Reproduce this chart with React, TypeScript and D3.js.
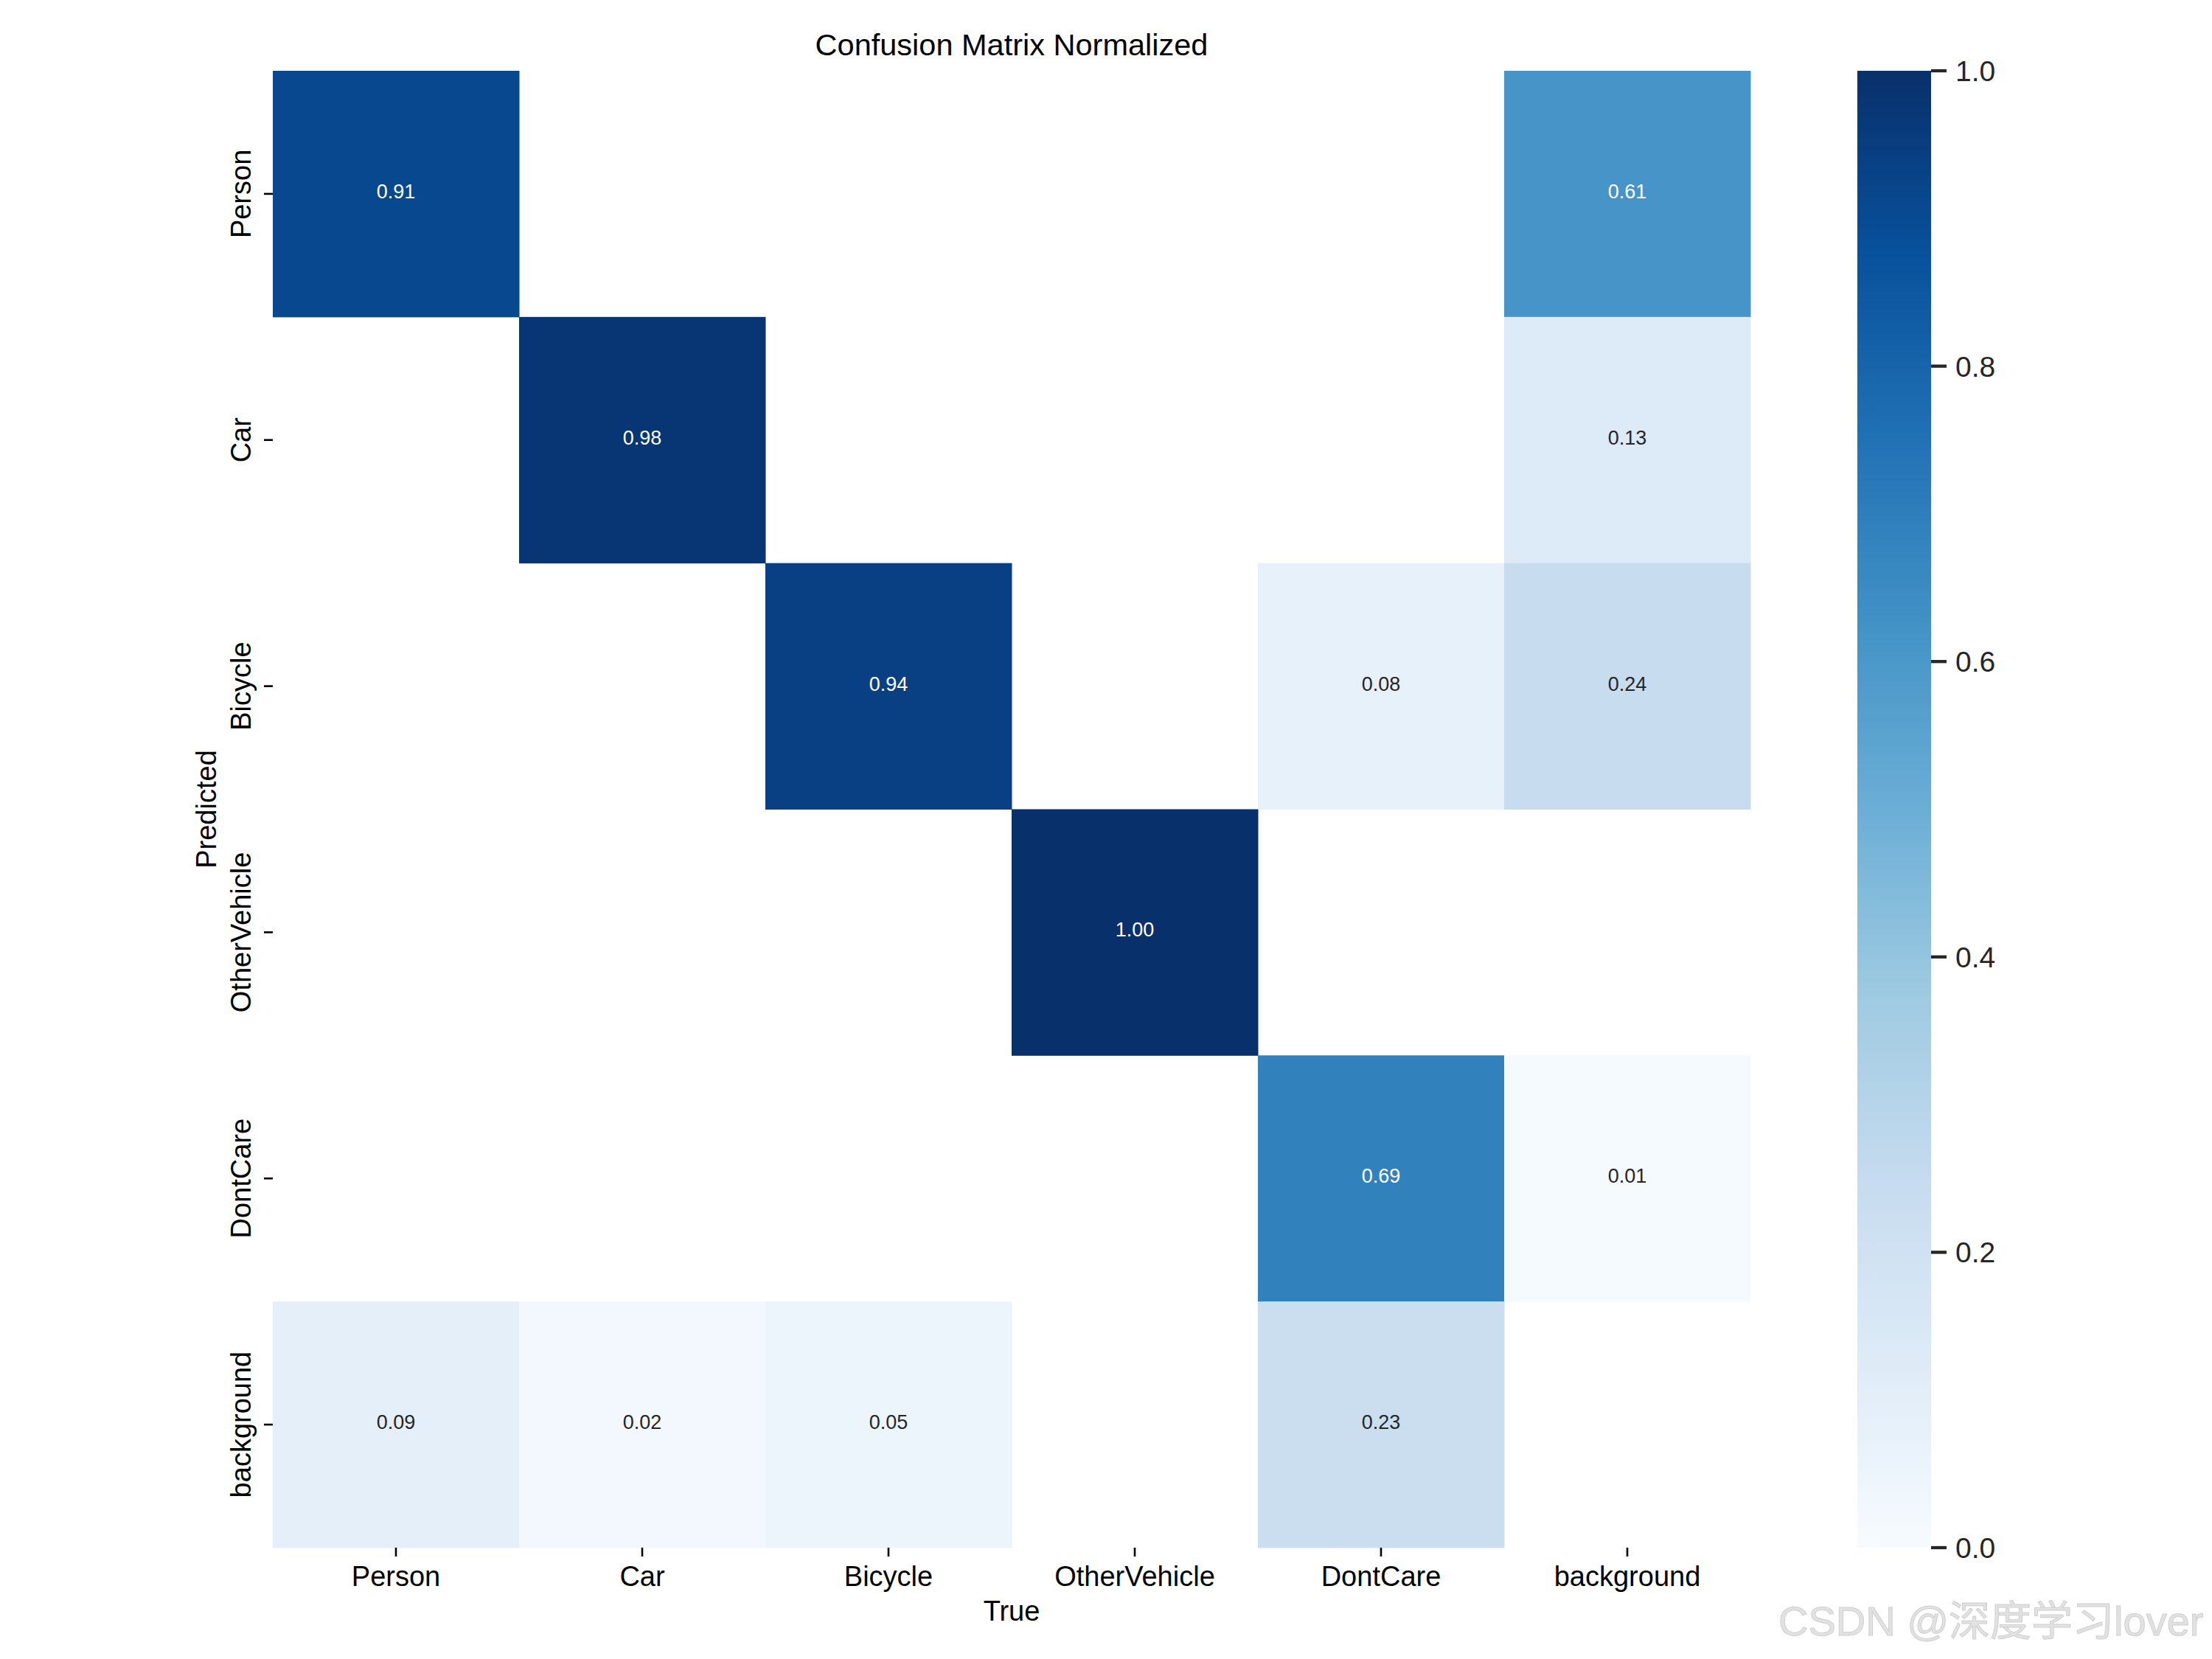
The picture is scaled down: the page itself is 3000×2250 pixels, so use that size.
import React from "react";
import * as d3 from "d3";

const classes = ["Person", "Car", "Bicycle", "OtherVehicle", "DontCare", "background"];
// rows = Predicted, columns = True; null = empty (masked) cell
const rowPerson = [0.91, null, null, null, null, 0.61];
const rowCar = [null, 0.98, null, null, null, 0.13];
const rowBicycle = [null, null, 0.94, null, 0.08, 0.24];
const rowOtherVehicle = [null, null, null, 1.0, null, null];
const rowDontCare = [null, null, null, null, 0.69, 0.01];
const rowBackground = [0.09, 0.02, 0.05, null, 0.23, null];
const matrix = [rowPerson, rowCar, rowBicycle, rowOtherVehicle, rowDontCare, rowBackground];
const colorbarTicks = [0.0, 0.2, 0.4, 0.6, 0.8, 1.0];
const blues9 = ["#f7fbff", "#deebf7", "#c6dbef", "#9ecae1", "#6baed6", "#4292c6", "#2171b5", "#08519c", "#08306b"];

const W = 3000;
const H = 2250;
const FONT = "'Liberation Sans', Arial, Helvetica, sans-serif";

function luminance(c: string) {
  const rgb = d3.rgb(c);
  const f = (v: number) => {
    const s = v / 255;
    return s <= 0.03928 ? s / 12.92 : Math.pow((s + 0.055) / 1.055, 2.4);
  };
  return 0.2126 * f(rgb.r) + 0.7152 * f(rgb.g) + 0.0722 * f(rgb.b);
}

export default function App() {
  const left = 370, right = 2374, top = 96, bottom = 2099;
  const x = d3.scaleBand<string>().domain(classes).range([left, right]);
  const y = d3.scaleBand<string>().domain(classes).range([top, bottom]);
  const stops = d3.range(blues9.length).map((i) => i / (blues9.length - 1));
  const color = d3.scaleLinear<string>().domain(stops).range(blues9).interpolate(d3.interpolateRgb);

  const cbLeft = 2519, cbRight = 2619;
  const cy = d3.scaleLinear().domain([0, 1]).range([bottom, top]);

  const cells: any[] = [];
  matrix.forEach((row, ri) => {
    row.forEach((v, ci) => {
      if (v === null || v === undefined) return;
      cells.push({ r: classes[ri], c: classes[ci], v });
    });
  });

  return (
    <svg width={W} height={H} style={{ position: "absolute", left: 0, top: 0, background: "#fff" }} fontFamily={FONT}>
      <defs>
        <linearGradient id="cbgrad" x1="0" y1="1" x2="0" y2="0">
          {blues9.map((c, i) => (
            <stop key={i} offset={stops[i]} stopColor={c} />
          ))}
        </linearGradient>
      </defs>
      <rect x={0} y={0} width={W} height={H} fill="#fff" />
      <text x={(left + right) / 2} y={75} fontSize={41.5} textAnchor="middle" fill="#000">
        Confusion Matrix Normalized
      </text>
      {cells.map((d, i) => {
        const fill = color(d.v);
        const tc = luminance(fill) > 0.408 ? "#262626" : "#ffffff";
        const cx = (x(d.c) as number) + x.bandwidth() / 2;
        const cyy = (y(d.r) as number) + y.bandwidth() / 2;
        return (
          <g key={i}>
            <rect x={x(d.c)} y={y(d.r)} width={x.bandwidth() + 0.5} height={y.bandwidth() + 0.5} fill={fill} />
            <text x={cx} y={cyy - 3} fontSize={27} textAnchor="middle" dominantBaseline="central" fill={tc}>
              {d.v.toFixed(2)}
            </text>
          </g>
        );
      })}
      {classes.map((c) => {
        const cx = (x(c) as number) + x.bandwidth() / 2;
        return (
          <g key={"x" + c}>
            <line x1={cx} x2={cx} y1={bottom} y2={bottom + 12} stroke="#000" strokeWidth={2.6} />
            <text x={cx} y={2151} fontSize={38} textAnchor="middle" fill="#000">
              {c}
            </text>
          </g>
        );
      })}
      {classes.map((c) => {
        const cyy = (y(c) as number) + y.bandwidth() / 2;
        return (
          <g key={"y" + c}>
            <line x1={left - 12} x2={left} y1={cyy} y2={cyy} stroke="#000" strokeWidth={2.6} />
            <text
              transform={`translate(340,${cyy}) rotate(-90)`}
              fontSize={38}
              textAnchor="middle"
              fill="#000"
            >
              {c}
            </text>
          </g>
        );
      })}
      <text x={(left + right) / 2} y={2198} fontSize={38} textAnchor="middle" fill="#000">
        True
      </text>
      <text transform={`translate(293,${(top + bottom) / 2}) rotate(-90)`} fontSize={38} textAnchor="middle" fill="#000">
        Predicted
      </text>
      <rect x={cbLeft} y={top} width={cbRight - cbLeft} height={bottom - top} fill="url(#cbgrad)" />
      {colorbarTicks.map((t) => (
        <g key={"cb" + t}>
          <line x1={cbRight} x2={cbRight + 21} y1={cy(t)} y2={cy(t)} stroke="#262626" strokeWidth={4.3} />
          <text x={2652} y={cy(t) + 14} fontSize={39} fill="#262626">
            {t.toFixed(1)}
          </text>
        </g>
      ))}
      <text
        x={2412}
        y={2218}
        fontSize={56}
        fill="#e2e2e2"
        stroke="#cfcfcf"
        strokeWidth={1}
        fontFamily="'Liberation Sans', Arial, 'Noto Sans CJK SC', sans-serif"
      >
        CSDN @深度学习lover
      </text>
    </svg>
  );
}
